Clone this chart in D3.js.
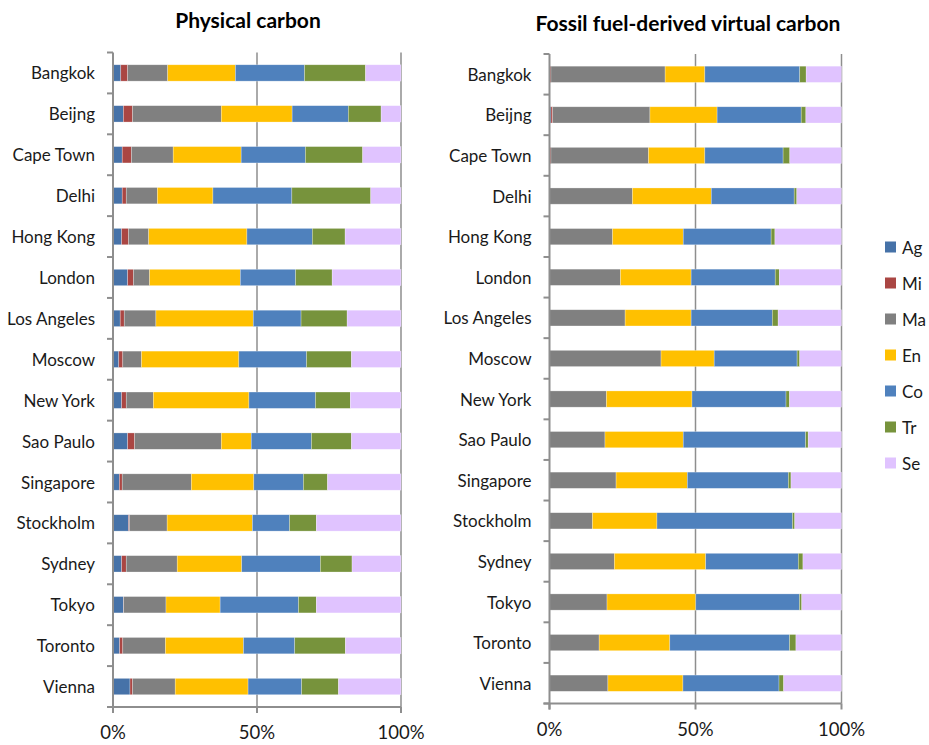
<!DOCTYPE html>
<html>
<head>
<meta charset="utf-8">
<script src="https://cdn.jsdelivr.net/npm/d3@7"></script>
<style>
  html, body { margin: 0; padding: 0; background: #fff; }
  svg { display: block; font-family: Lato, "Open Sans", sans-serif; }
</style>
</head>
<body>
<svg id="chart" width="929" height="745"></svg>
<script>
// Cities, top to bottom
const cities = ["Bangkok", "Beijng", "Cape Town", "Delhi", "Hong Kong", "London",
  "Los Angeles", "Moscow", "New York", "Sao Paulo", "Singapore", "Stockholm",
  "Sydney", "Tokyo", "Toronto", "Vienna"];

// Sectors (stack order) and colours
const sectors = ["Ag", "Mi", "Ma", "En", "Co", "Tr", "Se"];
const sectorColors = ["#4672A8", "#AA4643", "#808080", "#FFC000", "#4F81BD", "#77933C", "#E0C3FF"];

// Physical carbon, share (%) per sector, one array per sector in city order
const physAg = [2.7, 3.6, 3.2, 3.2, 3.0, 5.1, 2.5, 2.0, 3.0, 5.1, 2.2, 5.4, 3.0, 3.6, 2.3, 5.9];
const physMi = [2.4, 3.2, 3.2, 1.4, 2.4, 2.0, 1.4, 1.4, 1.6, 2.4, 1.0, 0.3, 1.6, 0.1, 1.1, 0.9];
const physMa = [13.9, 30.8, 14.5, 10.8, 7.0, 5.6, 11.0, 6.5, 9.4, 30.1, 24.0, 13.1, 17.7, 14.7, 14.8, 14.8];
const physEn = [23.5, 24.6, 23.6, 19.3, 34.1, 31.5, 33.8, 33.8, 33.2, 10.4, 21.7, 29.6, 22.4, 18.8, 27.1, 25.3];
const physCo = [24.0, 19.5, 22.3, 27.4, 22.7, 19.2, 16.6, 23.5, 23.1, 20.9, 17.2, 12.9, 27.3, 27.2, 17.8, 18.6];
const physTr = [21.2, 11.4, 19.9, 27.4, 11.4, 12.7, 16.0, 15.6, 12.1, 13.9, 8.4, 9.3, 11.0, 6.2, 17.6, 12.8];
const physSe = [12.3, 6.9, 13.3, 10.5, 19.4, 23.9, 18.7, 17.2, 17.6, 17.2, 25.5, 29.4, 17.0, 29.4, 19.3, 21.7];

// Fossil fuel-derived virtual carbon, share (%) per sector
const virtAg = [0.1, 0.5, 0.1, 0, 0, 0, 0, 0, 0, 0, 0, 0, 0, 0, 0, 0];
const virtMi = [0.4, 0.6, 0.4, 0, 0, 0, 0, 0, 0, 0, 0, 0, 0, 0, 0, 0];
const virtMa = [39.1, 33.3, 33.4, 28.4, 21.6, 24.3, 25.9, 38.2, 19.5, 19.0, 22.8, 14.7, 22.2, 19.7, 17.0, 20.0];
const virtEn = [13.6, 23.0, 19.3, 27.0, 24.2, 24.2, 22.6, 18.2, 29.3, 26.8, 24.4, 22.1, 31.3, 30.4, 24.2, 25.7];
const virtCo = [32.5, 28.8, 26.8, 28.4, 30.1, 28.8, 27.8, 28.4, 32.2, 41.9, 34.6, 46.4, 31.7, 35.5, 41.0, 32.9];
const virtTr = [2.2, 1.6, 2.3, 0.9, 1.3, 1.4, 2.0, 0.9, 1.2, 0.9, 0.9, 0.8, 1.6, 0.8, 2.2, 1.6];
const virtSe = [12.1, 12.2, 17.7, 15.3, 22.8, 21.3, 21.7, 14.3, 17.8, 11.4, 17.3, 16.0, 13.2, 13.6, 15.6, 19.8];

// X axis tick values and labels
const xTicks = [0, 0.5, 1];
const xTickLabels = ["0%", "50%", "100%"];

function rowsFrom(series) {
  return cities.map((c, i) => {
    const row = { city: c };
    sectors.forEach((s, k) => { row[s] = series[k][i]; });
    return row;
  });
}

const svg = d3.select("#chart");
const color = d3.scaleOrdinal().domain(sectors).range(sectorColors);
const stack = d3.stack().keys(sectors).offset(d3.stackOffsetExpand);
const gridColor = "#8e8e8e";

function drawPanel(opts) {
  const { series, title, x0, x1, y0, y1, titleX, titleY } = opts;
  const data = rowsFrom(series);
  const x = d3.scaleLinear().domain([0, 1]).range([x0, x1]);
  const y = d3.scaleBand().domain(cities).range([y0, y1]).paddingInner(0.6).paddingOuter(0.3);
  const g = svg.append("g");

  // vertical gridlines at 50% and 100%
  g.selectAll("line.grid").data(xTicks.slice(1)).join("line")
    .attr("x1", d => x(d)).attr("x2", d => x(d))
    .attr("y1", y0).attr("y2", y1)
    .attr("stroke", gridColor).attr("stroke-width", 1.5);

  // stacked bars
  const layers = stack(data);
  g.selectAll("g.layer").data(layers).join("g")
    .attr("fill", d => color(d.key))
    .selectAll("rect").data(d => d).join("rect")
    .attr("x", d => x(d[0]))
    .attr("width", d => Math.max(0, x(d[1]) - x(d[0])))
    .attr("y", d => y(d.data.city))
    .attr("height", y.bandwidth())
    .attr("stroke", "#ffffff").attr("stroke-opacity", 0.45).attr("stroke-width", 0.6);

  // category axis: line with ticks between categories
  const bounds = d3.range(cities.length + 1).map(i => y0 + i * (y1 - y0) / cities.length);
  g.append("line").attr("x1", x0).attr("x2", x0).attr("y1", y0).attr("y2", y1 + 6)
    .attr("stroke", gridColor).attr("stroke-width", 2);
  g.selectAll("line.ytick").data(bounds).join("line")
    .attr("x1", x0 - 6).attr("x2", x0).attr("y1", d => d).attr("y2", d => d)
    .attr("stroke", gridColor).attr("stroke-width", 2);
  g.selectAll("text.cat").data(cities).join("text")
    .attr("x", x0 - 18).attr("y", d => y(d) + y.bandwidth() / 2)
    .attr("text-anchor", "end").attr("dominant-baseline", "central")
    .attr("font-size", 17).attr("fill", "#1a1a1a")
    .text(d => d);

  // value axis at the bottom
  g.append("line").attr("x1", x0 - 6).attr("x2", x1).attr("y1", y1).attr("y2", y1)
    .attr("stroke", gridColor).attr("stroke-width", 2);
  g.selectAll("line.xtick").data(xTicks).join("line")
    .attr("x1", d => x(d)).attr("x2", d => x(d)).attr("y1", y1).attr("y2", y1 + 6)
    .attr("stroke", gridColor).attr("stroke-width", 2);
  g.selectAll("text.xlab").data(xTicks).join("text")
    .attr("x", d => x(d)).attr("y", y1 + 25)
    .attr("text-anchor", "middle").attr("dominant-baseline", "central")
    .attr("font-size", 18.5).attr("fill", "#1a1a1a")
    .text((d, i) => xTickLabels[i]);

  // panel title
  g.append("text").attr("x", titleX).attr("y", titleY)
    .attr("text-anchor", "middle").attr("dominant-baseline", "central")
    .attr("font-size", 21).attr("font-weight", "bold").attr("fill", "#000")
    .text(title);
}

drawPanel({
  series: [physAg, physMi, physMa, physEn, physCo, physTr, physSe],
  title: "Physical carbon",
  x0: 113, x1: 401, y0: 52.5, y1: 707, titleX: 248, titleY: 19
});
drawPanel({
  series: [virtAg, virtMi, virtMa, virtEn, virtCo, virtTr, virtSe],
  title: "Fossil fuel-derived virtual carbon",
  x0: 549.5, x1: 841.5, y0: 54, y1: 703.5, titleX: 688, titleY: 22
});

// legend
const legend = svg.append("g");
const ly = d3.scalePoint().domain(sectors).range([247, 463]);
legend.selectAll("rect").data(sectors).join("rect")
  .attr("x", 885).attr("y", d => ly(d) - 5.5).attr("width", 11).attr("height", 11)
  .attr("fill", d => color(d));
legend.selectAll("text").data(sectors).join("text")
  .attr("x", 902).attr("y", d => ly(d))
  .attr("dominant-baseline", "central").attr("font-size", 17).attr("fill", "#1a1a1a")
  .text(d => d);
</script>
</body>
</html>
